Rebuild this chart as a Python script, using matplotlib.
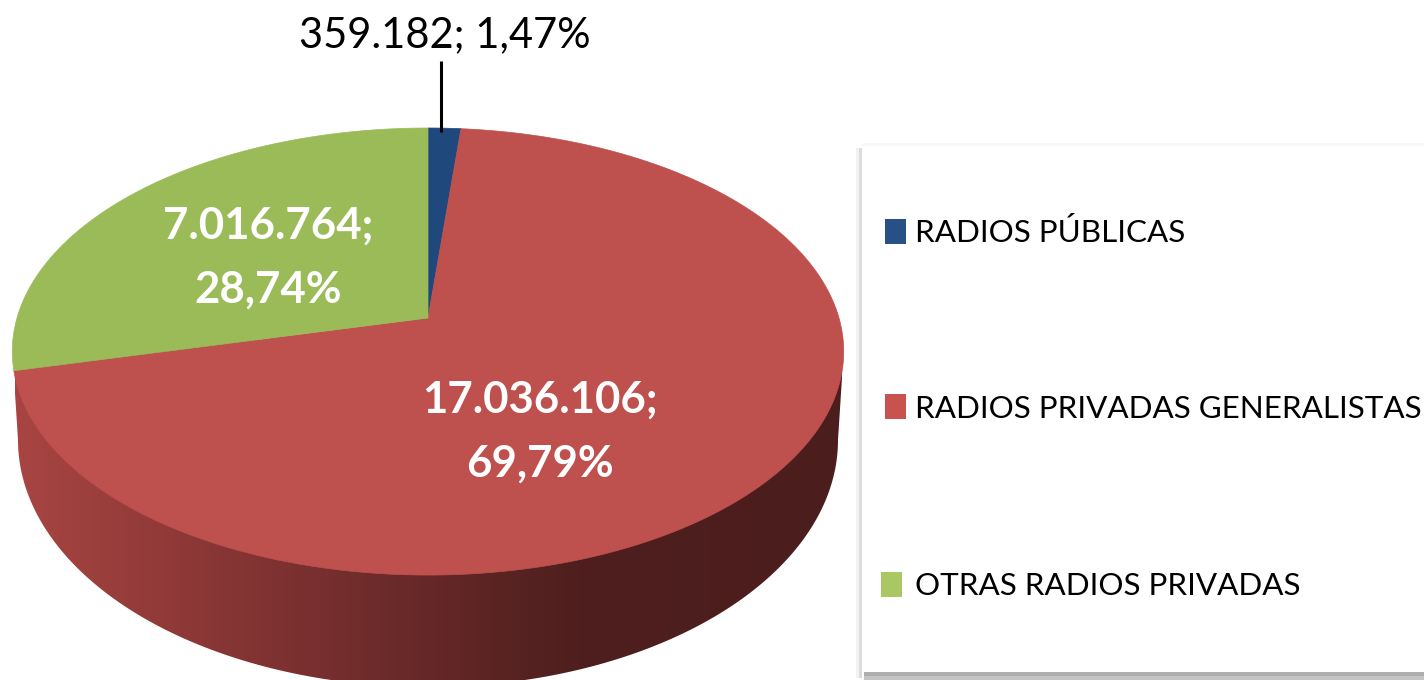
"""Pie 3D de audiencia de radios, con perspectiva"""
import numpy as np
import matplotlib
matplotlib.use("Agg")
import matplotlib.pyplot as plt
from matplotlib.patches import Polygon, Rectangle
from matplotlib.colors import LinearSegmentedColormap

categories = ["RADIOS PÚBLICAS", "RADIOS PRIVADAS GENERALISTAS", "OTRAS RADIOS PRIVADAS"]
values = [359182, 17036106, 7016764]
percents = [1.47, 69.79, 28.74]
colors = ["#1f497d", "#be504d", "#9bbb59"]
legend_colors = ["#265086", "#c9524f", "#a9c864"]

W, H = 1424, 680
plt.rcParams["font.family"] = ["Lato", "DejaVu Sans"]

fig = plt.figure(figsize=(W / 100, H / 100), dpi=100)
ax = fig.add_axes([0, 0, 1, 1])
ax.set_xlim(0, W)
ax.set_ylim(H, 0)
ax.axis("off")

# perspective of the pie top: unit circle -> picture
cx, cy = 428, 318
k, a, b = 0.15, 218.5, 411


def project(theta):
    u, v = np.sin(theta), np.cos(theta)
    w = 1 + k * v
    return cx + b * u / w, cy - a * v / w


def label_text(v, p):
    return f"{v:,}".replace(",", ".") + ";", f"{p:.2f}%".replace(".", ",")


# legend box, behind the pie: faint top, grey left and bottom shadow
ax.add_patch(Rectangle((862, 143), W, 3, fc="#f8f8f8", ec="none", zorder=0))
ax.add_patch(Rectangle((856, 148), 3, 530, fc="#f2f2f2", ec="none", zorder=0))
ax.add_patch(Rectangle((859, 148), 3, 530, fc="#dcdcdc", ec="none", zorder=0.1))
ax.add_patch(Rectangle((864, 672), W, 4, fc="#aeaeae", ec="none", zorder=0.2))
ax.add_patch(Rectangle((864, 676), W, 4, fc="#c4c4c4", ec="none", zorder=0.2))

# side wall with a horizontal shading, clipped to the wall outline
t = np.linspace(-np.pi / 2, np.pi / 2, 300)
base_x = 428 + 410 * np.sin(t)
base_y = 440 + 247 * np.cos(t)
full = np.linspace(0, 2 * np.pi, 721)
top_x, top_y = project(full)
left = top_x.argmin()
right = top_x.argmax()
wall = np.column_stack([
    np.r_[top_x[left], base_x, top_x[right], cx],
    np.r_[top_y[left], base_y, top_y[right], cy],
])
wall_patch = Polygon(wall, closed=True, fc="none", ec="none", transform=ax.transData)
ax.add_patch(wall_patch)
shade = LinearSegmentedColormap.from_list(
    "wall", [(0, "#a84542"), (0.34, "#7b3030"), (0.68, "#4e1f1e"), (1, "#4b1d1c")]
)
grad = ax.imshow(
    np.linspace(0, 1, 400)[None, :], cmap=shade, extent=(15, 842, 700, 340),
    aspect="auto", zorder=1,
)
grad.set_clip_path(wall_patch)
ax.set_xlim(0, W)
ax.set_ylim(H, 0)

# top slices, clockwise from 12 o'clock
edges = np.r_[0, np.cumsum(values)] / np.sum(values) * 2 * np.pi
for i, c in enumerate(colors):
    th = np.linspace(edges[i], edges[i + 1], 300)
    x, y = project(th)
    ax.fill(np.r_[cx, x], np.r_[cy, y], color=c, lw=0.5, zorder=2)

# leader line of the small slice
ax.plot([441, 441], [61, 132], color="black", lw=2.2, solid_capstyle="butt", zorder=3)

l1, l2 = label_text(values[0], percents[0])
ax.text(444.5, 35, l1 + " " + l2, ha="center", va="center", fontsize=30, color="black", zorder=4)

for i, (lx, ly) in [(1, (540, 432)), (2, (268, 258))]:
    l1, l2 = label_text(values[i], percents[i])
    ax.text(lx, ly - 32, l1, ha="center", va="center", fontsize=31.5, fontweight="bold",
            color="white", zorder=4)
    ax.text(lx, ly + 32, l2, ha="center", va="center", fontsize=31.5, fontweight="bold",
            color="white", zorder=4)

# legend entries
for name, c, mx, my, ty in zip(categories, legend_colors, [885, 885, 881], [219, 394, 572],
                               [232, 409, 586]):
    ax.add_patch(Rectangle((mx, my), 21, 25, fc=c, ec="none", zorder=4))
    ax.text(915, ty, name, ha="left", va="center", fontsize=22.6, color="black", zorder=4)

fig.savefig("out.png", dpi=100)
